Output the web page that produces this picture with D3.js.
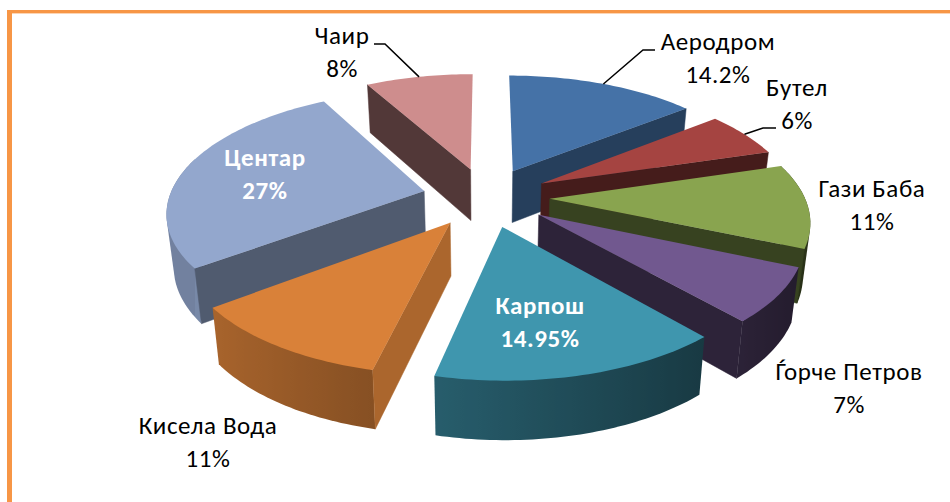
<!DOCTYPE html>
<html>
<head>
<meta charset="utf-8">
<script src="https://cdnjs.cloudflare.com/ajax/libs/d3/7.8.5/d3.min.js"></script>
<style>
  html, body { margin: 0; padding: 0; background: #fff; }
  svg { display: block; }
</style>
</head>
<body>
<div id="chart"></div>
<script>
const categories = ["Аеродром", "Бутел", "Гази Баба", "Ѓорче Петров", "Карпош", "Кисела Вода", "Центар", "Чаир"];
const values = [14.2, 6, 11, 7, 14.95, 11, 27, 8];
const colors = ["#4572a7", "#a54441", "#89a44f", "#71588f", "#3f96ae", "#d98139", "#93a7cd", "#ce8d8d"];

const width = 950, height = 502;

const svg = d3.select("#chart").append("svg")
    .attr("width", width)
    .attr("height", height)
    .attr("viewBox", `0 0 ${width} ${height}`);

svg.append("rect").attr("width", width).attr("height", height).attr("fill", "#fff");
const defs = svg.append("defs");

// orange frame, only left and top are inside the picture
svg.append("rect").attr("x", 7).attr("y", 10).attr("width", 5).attr("height", height).attr("fill", "#f79646");
svg.append("rect").attr("x", 7).attr("y", 10).attr("width", width).attr("height", 3.4).attr("fill", "#f79646");

// 3d pie: unit radius disc, tilted, with perspective
const cx = 486, cy = 197;
const focal = 1595, dist = 6.26, tilt = 0.465, explode = 0.25;
const scaleAt = Y => focal / (dist - Y);

// X right, Y towards the viewer, z = 0 on top and 1 on the bottom face
function project(X, Y, z) {
    const s = scaleAt(Y);
    return [
        cx + s * X * (1 - 0.023 * z),
        cy + s * Y * tilt + z * (23 + 0.115 * s)
    ];
}

const pie = d3.pie().sort(null).value(d => d)(values);

const slices = pie.map((p, i) => {
    const mid = (p.startAngle + p.endAngle) / 2;
    return {
        i,
        start: p.startAngle,
        end: p.endAngle,
        mid,
        ox: explode * Math.sin(mid),
        oy: -explode * Math.cos(mid)
    };
});

const rimPoint = (sl, a, z) => project(sl.ox + Math.sin(a), sl.oy - Math.cos(a), z);
const apexPoint = (sl, z) => project(sl.ox, sl.oy, z);
const poly = pts => d3.line()(pts) + "Z";

function shade(col, k) {
    const c = d3.rgb(col);
    return d3.rgb(c.r * k, c.g * k, c.b * k).formatHex();
}

const deg = a => a * 180 / Math.PI;
const sideShade = a => Math.max(0.4, 0.79 - (deg(a) - 103) * 0.0062);
const rimShade = a => 0.56 - 0.27 * Math.sin(a);

const g = svg.append("g");

// back to front
slices.slice().sort((a, b) => a.oy - b.oy).forEach(sl => {
    const col = colors[sl.i];
    const piece = g.append("g").attr("class", "slice");

    // outer wall, hull of top and bottom rim so the silhouette has no notch
    const n = Math.ceil((sl.end - sl.start) / 0.02);
    const arc = d3.range(n + 1).map(k => sl.start + (sl.end - sl.start) * k / n);
    const front = arc.filter(a => Math.cos(a) < 0.3);
    if (front.length > 1) {
        const x0 = rimPoint(sl, front[0], 0)[0];
        const x1 = rimPoint(sl, front[front.length - 1], 0)[0];
        const grad = defs.append("linearGradient")
            .attr("id", "rim" + sl.i)
            .attr("gradientUnits", "userSpaceOnUse")
            .attr("x1", x0).attr("x2", x1)
            .attr("y1", 0).attr("y2", 0);
        front.forEach(a => {
            grad.append("stop")
                .attr("offset", (rimPoint(sl, a, 0)[0] - x0) / (x1 - x0))
                .attr("stop-color", shade(col, rimShade(a)));
        });
        const hull = d3.polygonHull(front.map(a => rimPoint(sl, a, 0)).concat(front.map(a => rimPoint(sl, a, 1))));
        piece.append("path").attr("d", poly(hull)).attr("fill", `url(#rim${sl.i})`);
    }

    // wall on the start edge, normal points to angle - 90deg
    if (Math.cos(sl.start - Math.PI / 2) < 0) {
        const fill = shade(col, sideShade(sl.start - Math.PI / 2));
        piece.append("path")
            .attr("d", poly([apexPoint(sl, 0), rimPoint(sl, sl.start, 0), rimPoint(sl, sl.start, 1), apexPoint(sl, 1)]))
            .attr("fill", fill)
            .attr("stroke", fill)
            .attr("stroke-width", 0.5);
    }
    // wall on the end edge, normal points to angle + 90deg
    if (Math.cos(sl.end + Math.PI / 2) < 0) {
        const fill = shade(col, sideShade(sl.end + Math.PI / 2));
        piece.append("path")
            .attr("d", poly([apexPoint(sl, 0), rimPoint(sl, sl.end, 0), rimPoint(sl, sl.end, 1), apexPoint(sl, 1)]))
            .attr("fill", fill)
            .attr("stroke", fill)
            .attr("stroke-width", 0.5);
    }

    // top face
    const top = [apexPoint(sl, 0)].concat(arc.map(a => rimPoint(sl, a, 0)));
    piece.append("path").attr("d", poly(top)).attr("fill", col);
});

// leader lines, from the middle of the rim to the label
const leaders = [
    { i: 0, pts: [[643, 50], [655, 50]] },
    { i: 1, pts: [[763, 128], [776, 128]] },
    { i: 7, pts: [[385, 44], [374, 44]] }
];
leaders.forEach(l => {
    const sl = slices[l.i];
    svg.append("path")
        .attr("d", d3.line()([rimPoint(sl, sl.mid, 0)].concat(l.pts)))
        .attr("fill", "none")
        .attr("stroke", "#000")
        .attr("stroke-width", 1.5);
});

// data labels
const labelPos = [
    [718, 50], [797, 96], [872, 197], [849, 380],
    [540, 314], [208, 434], [265, 166], [342, 44]
];
const insideLabel = [false, false, false, false, true, false, true, false];
const labels = svg.append("g")
    .attr("font-family", "Carlito, Lato, 'Noto Sans', sans-serif")
    .attr("font-size", 25)
    .attr("letter-spacing", 0.6)
    .attr("text-anchor", "middle");

categories.forEach((name, i) => {
    const t = labels.append("text")
        .attr("fill", insideLabel[i] ? "#fff" : "#000")
        .attr("font-weight", insideLabel[i] ? "bold" : "normal");
    t.append("tspan").attr("x", labelPos[i][0]).attr("y", labelPos[i][1]).text(name);
    t.append("tspan").attr("x", labelPos[i][0]).attr("y", labelPos[i][1] + 32.7).text(values[i] + "%");
});
</script>
</body>
</html>
